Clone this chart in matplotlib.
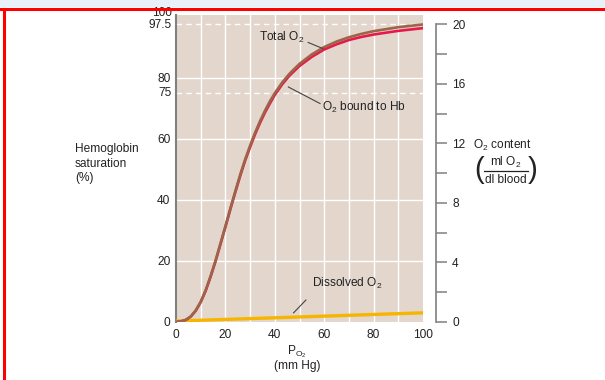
import matplotlib
matplotlib.use("Agg")
import matplotlib.pyplot as plt
from matplotlib.lines import Line2D
from matplotlib.patches import Rectangle

plt.rcParams["font.family"] = ["Liberation Sans", "DejaVu Sans"]
plt.rcParams["mathtext.fontset"] = "custom"
plt.rcParams["mathtext.rm"] = "Liberation Sans"
plt.rcParams["mathtext.it"] = "Liberation Sans"
plt.rcParams["mathtext.bf"] = "Liberation Sans:bold"

# 数据：读自图中
po2 = [0, 2, 4, 6, 8, 10, 12, 14, 16, 18, 20, 22, 24, 26, 28, 30, 32, 34, 36, 38,
       40, 43, 46, 50, 55, 60, 65, 70, 75, 80, 90, 100]
total_sat = [0, 0.2, 0.7, 1.8, 3.8, 6.6, 10.4, 15.0, 20.1, 25.7, 31.4, 37.2, 42.8, 48.3,
             53.3, 57.8, 62.0, 65.8, 69.2, 72.3, 75.0, 78.5, 81.4, 84.6, 87.7, 90.1,
             91.9, 93.3, 94.4, 95.3, 96.6, 97.5]
hb_sat = [0, 0.2, 0.7, 1.8, 3.7, 6.5, 10.2, 14.8, 19.9, 25.5, 31.1, 36.9, 42.5, 47.9,
          52.9, 57.3, 61.5, 65.2, 68.6, 71.6, 74.4, 77.9, 80.8, 83.9, 86.9, 89.3,
          91.0, 92.4, 93.4, 94.2, 95.4, 96.3]
dissolved_po2 = [0, 100]
dissolved_sat = [0.3, 3.0]

x_ticks = [0, 20, 40, 60, 80, 100]
sat_ticks = [0, 20, 40, 60, 80]
dashed_levels = [75, 97.5]
content_ticks = list(range(0, 21, 2))
content_labels = [str(v) if v % 4 == 0 else "" for v in content_ticks]

BG = "#e3d6cc"
BROWN = "#9c6549"
RED = "#e8184c"
YELLOW = "#f7b500"
GREY = "#808080"
TXT = "#222222"
FS = 8.6

fig = plt.figure(figsize=(6.05, 3.8), dpi=100)
fig.patch.set_facecolor("white")


def fx(px):
    return px / 605


def fy(py):
    return 1 - py / 380


# 顶部浅蓝条与红框
fig.add_artist(Rectangle((0, fy(7)), 1, 7 / 380, transform=fig.transFigure,
                         facecolor="#e9f0f8", edgecolor="none"))
fig.add_artist(Line2D([0, 1], [fy(8.5)] * 2, transform=fig.transFigure,
                      color="#ff0000", lw=2.2))
fig.add_artist(Line2D([fx(4)] * 2, [0, fy(8.5)], transform=fig.transFigure,
                      color="#ff0000", lw=2.2))

ax = fig.add_axes([fx(176), 58 / 380, 247 / 605, 307 / 380])
ax.set_facecolor(BG)
ax.set_xlim(0, 100)
ax.set_ylim(0, 100.6)

for x in range(10, 100, 10):
    ax.axvline(x, color="white", lw=1.0, zorder=1)
for y in sat_ticks[1:]:
    ax.axhline(y, color="white", lw=1.0, zorder=1)
for y in dashed_levels:
    ax.axhline(y, color="white", lw=1.0, ls=(0, (4, 3)), zorder=1)

ax.plot(dissolved_po2, dissolved_sat, color=YELLOW, lw=2.4, zorder=3, solid_capstyle="butt")
ax.plot(po2, hb_sat, color=RED, lw=1.9, zorder=3)
ax.plot(po2, total_sat, color=BROWN, lw=1.9, zorder=4)

for s in ["top", "right", "bottom"]:
    ax.spines[s].set_visible(False)
ax.spines["left"].set_color(GREY)
ax.spines["left"].set_linewidth(1.5)

ax.set_xticks(x_ticks)
ax.set_yticks(sat_ticks)
ax.tick_params(axis="both", length=0, labelsize=FS, labelcolor=TXT)
ax.tick_params(axis="x", pad=5)
ax.tick_params(axis="y", pad=4)
ax.text(-1.6, 75, "75", ha="right", va="center", fontsize=FS, color=TXT)
ax.text(-1.6, 97.2, "97.5", ha="right", va="center", fontsize=FS, color=TXT)
ax.text(-1.6, 101.1, "100", ha="right", va="center", fontsize=FS, color=TXT)

# 注释
ax.text(33.6, 93.2, "Total O$_2$", ha="left", va="center", fontsize=FS, color=TXT)
ax.plot([53.5, 59.5], [91.6, 89.6], color="#444444", lw=0.8, zorder=5)
ax.text(59.2, 70.3, "O$_2$ bound to Hb", ha="left", va="center", fontsize=FS, color=TXT)
ax.plot([45.5, 58.3], [77.0, 71.6], color="#444444", lw=0.8, zorder=5)
ax.text(55.0, 12.6, "Dissolved O$_2$", ha="left", va="center", fontsize=FS, color=TXT)
ax.plot([47.6, 52.6], [3.0, 7.2], color="#444444", lw=0.8, zorder=5)

# 轴标题
ax.text(49, -9.8, "P$_{\\mathrm{O_2}}$", ha="center", va="center", fontsize=FS,
        color=TXT, clip_on=False)
ax.text(49, -14.5, "(mm Hg)", ha="center", va="center", fontsize=FS, color=TXT,
        clip_on=False)
fig.text(fx(75), fy(143), "Hemoglobin\nsaturation\n(%)", ha="left", va="top",
         fontsize=FS, color=TXT, linespacing=1.3)

# 右侧 O2 含量轴
ax2 = ax.twinx()
ax2.set_ylim(0, 100.6 / 97.5 * 20)
for s in ["top", "left", "bottom"]:
    ax2.spines[s].set_visible(False)
ax2.spines["right"].set_position(("outward", 9))
ax2.spines["right"].set_bounds(0, 20)
ax2.spines["right"].set_color(GREY)
ax2.spines["right"].set_linewidth(1.2)
ax2.set_yticks(content_ticks)
ax2.set_yticklabels(content_labels)
ax2.tick_params(axis="y", direction="out", length=8, width=1.1, color=GREY,
                labelsize=FS, labelcolor=TXT, pad=4)

fig.text(fx(473), fy(145), "O$_2$ content", ha="left", va="center",
         fontsize=FS, color=TXT)
# 分式单位 (ml O2 / dl blood)
fig.text(fx(506), fy(162), "ml O$_2$", ha="center", va="center", fontsize=FS, color=TXT)
fig.add_artist(Line2D([fx(484), fx(528)], [fy(171)] * 2, transform=fig.transFigure,
                      color=TXT, lw=0.9))
fig.text(fx(506), fy(180), "dl blood", ha="center", va="center", fontsize=FS, color=TXT)
fig.text(fx(479), fy(170), "(", ha="center", va="center", fontsize=21, color=TXT,
         fontweight="light")
fig.text(fx(533), fy(170), ")", ha="center", va="center", fontsize=21, color=TXT,
         fontweight="light")

fig.savefig("out.png", dpi=100)
